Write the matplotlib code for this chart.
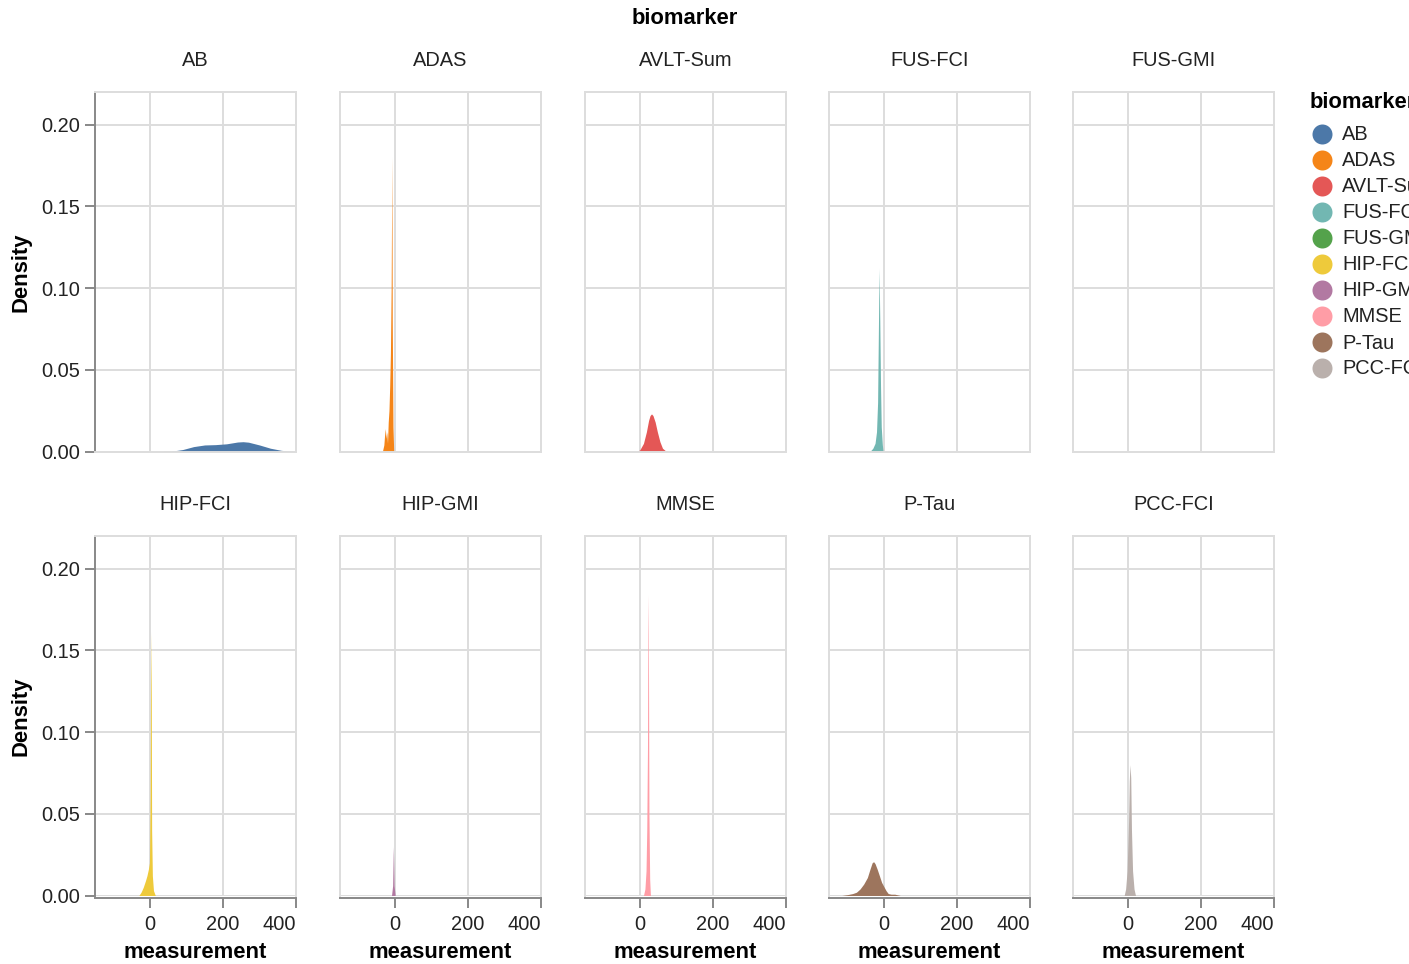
import numpy as np
import matplotlib.pyplot as plt
from matplotlib.lines import Line2D

plt.rcParams['font.family'] = ['Liberation Sans', 'DejaVu Sans']

W, H = 1409, 964

biomarkers = ["AB", "ADAS", "AVLT-Sum", "FUS-FCI", "FUS-GMI",
              "HIP-FCI", "HIP-GMI", "MMSE", "P-Tau", "PCC-FCI"]
colors = ["#4c78a8", "#f58518", "#e45756", "#72b7b2", "#54a24b",
          "#eeca3b", "#b279a2", "#ff9da6", "#9d755d", "#bab0ac"]

# density estimates per biomarker: measurement -> density
ab_x = [40, 60, 90, 120, 150, 180, 210, 240, 255, 270, 300, 330, 360, 390]
ab_density = [0, 0.0002, 0.0012, 0.0030, 0.0040, 0.0042, 0.0047, 0.0058,
              0.0060, 0.0057, 0.0040, 0.0020, 0.0007, 0.0001]

adas_x = [-34, -30, -28, -26, -24, -22, -20, -18, -16, -14, -12, -10, -9, -8, -7, -5, -3]
adas_density = [0, 0.004, 0.010, 0.014, 0.008, 0.012, 0.005, 0.018,
                0.025, 0.040, 0.060, 0.100, 0.140, 0.180, 0.080, 0.015, 0]

avlt_x = [-8, 0, 10, 18, 24, 28, 32, 36, 42, 48, 55, 62, 70, 77]
avlt_density = [0, 0.001, 0.005, 0.012, 0.019, 0.022, 0.023, 0.022,
                0.018, 0.012, 0.006, 0.002, 0.0005, 0]

fus_fci_x = [-38, -30, -24, -20, -17, -15, -13, -11, -9, -7, -4, -2]
fus_fci_density = [0, 0.002, 0.005, 0.012, 0.030, 0.070, 0.112, 0.080,
                   0.040, 0.015, 0.004, 0]

fus_gmi_x = []
fus_gmi_density = []

hip_fci_x = [-30, -24, -18, -12, -8, -4, -1, 1, 2, 3, 4, 5, 7, 10, 15]
hip_fci_density = [0, 0.002, 0.005, 0.009, 0.012, 0.016, 0.020, 0.060,
                   0.130, 0.161, 0.120, 0.040, 0.012, 0.003, 0]

hip_gmi_x = [-9, -6, -4, -2, 1]
hip_gmi_density = [0, 0.006, 0.030, 0.006, 0]

mmse_x = [10, 14, 17, 19, 21, 22, 23, 24, 25, 27, 29]
mmse_density = [0, 0.004, 0.015, 0.040, 0.090, 0.160, 0.184, 0.120,
                0.050, 0.010, 0]

ptau_x = [-115, -100, -85, -75, -65, -55, -45, -38, -32, -28, -24, -18,
          -12, -6, 0, 6, 12, 20, 30, 45]
ptau_density = [0, 0.0005, 0.0012, 0.002, 0.004, 0.007, 0.011, 0.016,
                0.0200, 0.0207, 0.0195, 0.016, 0.012, 0.008, 0.0055,
                0.003, 0.0012, 0.0008, 0.0008, 0]

pcc_fci_x = [-10, -6, -2, 2, 4, 6, 8, 10, 13, 17, 21]
pcc_fci_density = [0, 0.004, 0.015, 0.045, 0.070, 0.080, 0.072, 0.040,
                   0.015, 0.004, 0]

curves = {
    "AB": (ab_x, ab_density),
    "ADAS": (adas_x, adas_density),
    "AVLT-Sum": (avlt_x, avlt_density),
    "FUS-FCI": (fus_fci_x, fus_fci_density),
    "FUS-GMI": (fus_gmi_x, fus_gmi_density),
    "HIP-FCI": (hip_fci_x, hip_fci_density),
    "HIP-GMI": (hip_gmi_x, hip_gmi_density),
    "MMSE": (mmse_x, mmse_density),
    "P-Tau": (ptau_x, ptau_density),
    "PCC-FCI": (pcc_fci_x, pcc_fci_density),
}

x_ticks = [0, 200, 400]
x_tick_labels = ["0", "200", "400"]
y_ticks = [0, 0.05, 0.10, 0.15, 0.20]
y_tick_labels = ["0.00", "0.05", "0.10", "0.15", "0.20"]

# panel layout in pixels
col_left = [95, 340, 585, 829, 1073]
row_top = [92, 536]
panel_w, panel_h = 201, 359.5

GRID = "#dddddd"
AXIS = "#888888"
LW = 1.4
LABEL_SIZE = 14.4
TITLE_SIZE = 15.8


def fx(x):
    return x / W


def fy(y):
    return 1 - y / H


fig = plt.figure(figsize=(W / 100, H / 100), dpi=100)

for i, name in enumerate(biomarkers):
    r, c = divmod(i, 5)
    ax = fig.add_axes([fx(col_left[c]), fy(row_top[r] + panel_h),
                       panel_w / W, panel_h / H])
    xs, ys = curves[name]
    if xs:
        ax.fill_between(xs, ys, 0, color=colors[i], lw=0)
    ax.set_xlim(-150, 400)
    ax.set_ylim(0, 0.22)
    ax.set_xticks(x_ticks)
    ax.set_yticks(y_ticks)
    ax.grid(True, color=GRID, lw=LW)
    ax.set_axisbelow(True)
    for sp in ax.spines.values():
        sp.set_color(GRID)
        sp.set_linewidth(LW)

    if c == 0:
        ax.set_yticklabels(y_tick_labels)
        ax.spines['left'].set_color(AXIS)
        ax.tick_params(axis='y', length=7.2, width=LW, color=AXIS, pad=3.2,
                       labelsize=LABEL_SIZE, labelcolor="#222222")
        fig.text(fx(21), fy(row_top[r] + panel_h / 2), "Density", rotation=90,
                 ha='center', va='center', fontsize=TITLE_SIZE, fontweight='bold')
    else:
        ax.tick_params(axis='y', length=0, labelleft=False)

    if r == 1:
        ax.set_xticklabels(x_tick_labels)
        ax.spines['bottom'].set_color(AXIS)
        ax.spines['bottom'].set_position(('outward', 1.5))
        ax.tick_params(axis='x', length=7.2, width=LW, color=AXIS, pad=5.5,
                       labelsize=LABEL_SIZE, labelcolor="#222222")
        for lbl in ax.get_xticklabels():
            if lbl.get_text() == "400":
                lbl.set_ha('right')
        fig.text(fx(col_left[c] + panel_w / 2), fy(953), "measurement",
                 ha='center', va='center', fontsize=TITLE_SIZE, fontweight='bold')
    else:
        ax.tick_params(axis='x', length=0, labelbottom=False)

    # facet header
    fig.text(fx(col_left[c] + panel_w / 2), fy(row_top[r] - 31), name,
             ha='center', va='center', fontsize=LABEL_SIZE, color="#222222")

fig.text(fx((col_left[0] + col_left[-1] + panel_w) / 2), fy(19), "biomarker",
         ha='center', va='center', fontsize=TITLE_SIZE, fontweight='bold')

# color legend, running past the right edge of the canvas
fig.text(fx(1310), fy(102), "biomarker", ha='left', va='center',
         fontsize=TITLE_SIZE, fontweight='bold')
for i, name in enumerate(biomarkers):
    yy = 134 + 26 * i
    fig.add_artist(Line2D([fx(1322)], [fy(yy)], marker='o', ms=14.4, mew=0,
                          color=colors[i], transform=fig.transFigure))
    fig.text(fx(1342), fy(yy + 1), name, ha='left', va='center',
             fontsize=LABEL_SIZE, color="#222222")

fig.savefig("out.png", dpi=100)
